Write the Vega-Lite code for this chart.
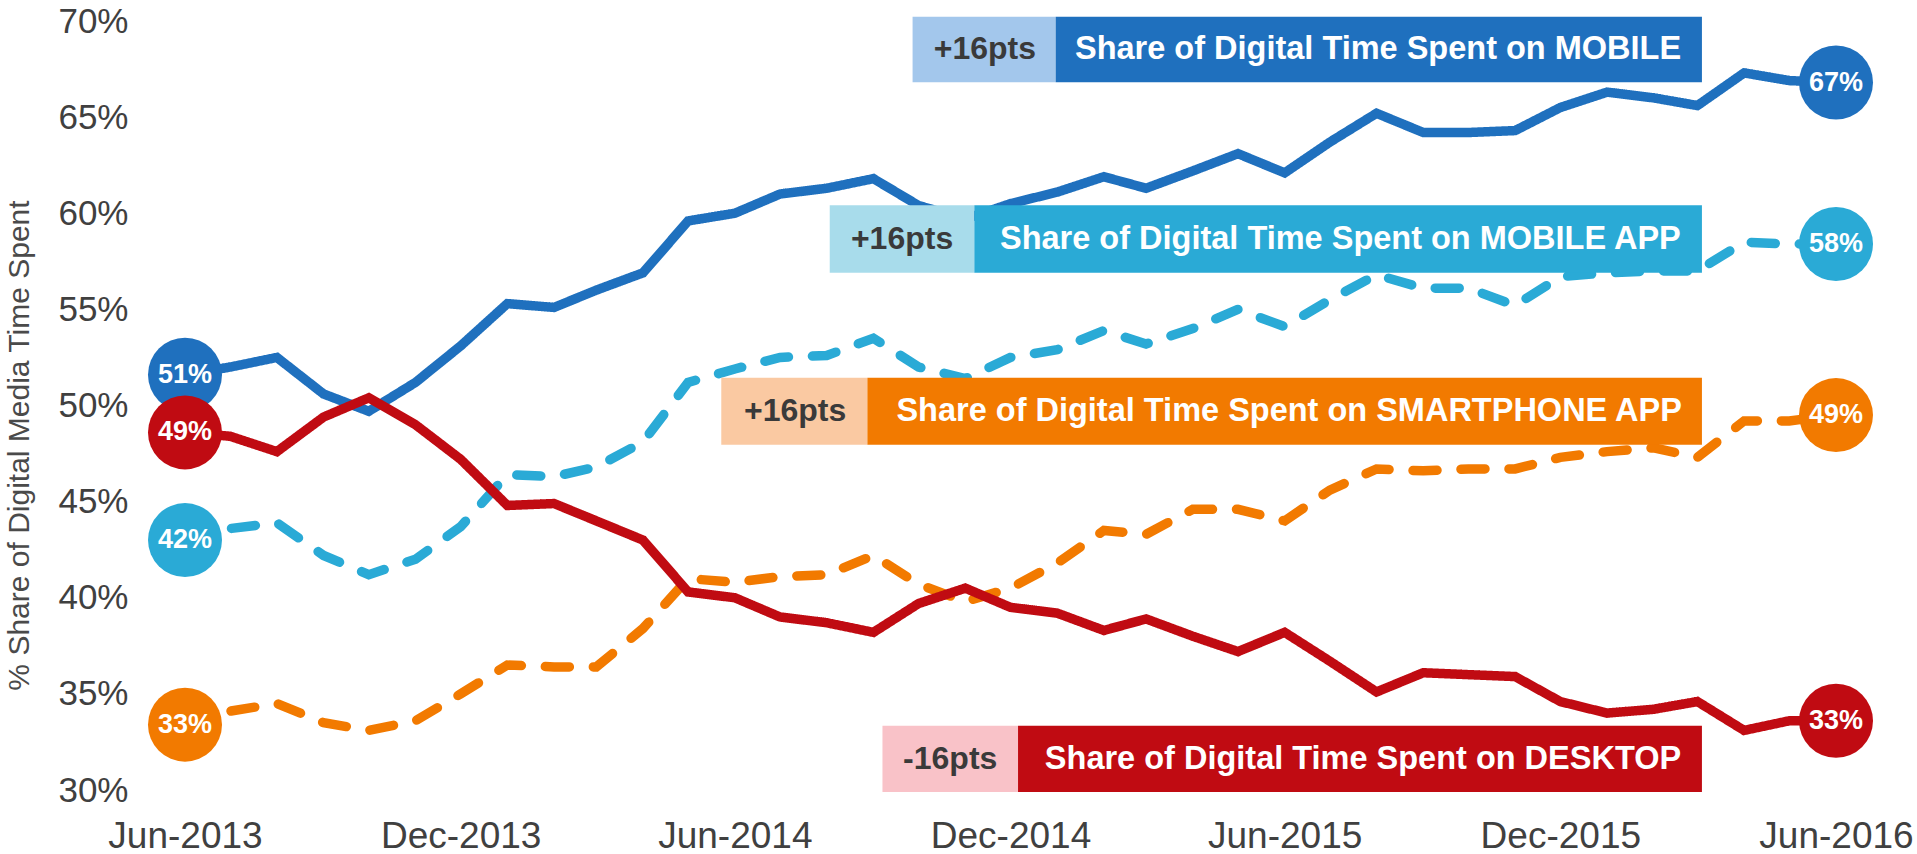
{
  "$schema": "https://vega.github.io/schema/vega-lite/v6.json",
  "width": 1651,
  "height": 769,
  "autosize": "none",
  "padding": {"left": 185, "top": 21, "right": 81, "bottom": 64},
  "background": "white",
  "config": {
    "view": {"stroke": null},
    "font": "Liberation Sans",
    "axis": {"grid": false, "domain": false, "ticks": false, "tickSize": 0}
  },
  "datasets": {
    "series": [
      {"series":"MOBILE","date":"2013-06-01","value":51.6},{"series":"MOBILE","date":"2013-07-01","value":52.0},{"series":"MOBILE","date":"2013-08-01","value":52.5},{"series":"MOBILE","date":"2013-09-01","value":50.6},{"series":"MOBILE","date":"2013-10-01","value":49.7},{"series":"MOBILE","date":"2013-11-01","value":51.2},{"series":"MOBILE","date":"2013-12-01","value":53.1},{"series":"MOBILE","date":"2014-01-01","value":55.3},{"series":"MOBILE","date":"2014-02-01","value":55.1},{"series":"MOBILE","date":"2014-03-01","value":56.0},{"series":"MOBILE","date":"2014-04-01","value":56.9},{"series":"MOBILE","date":"2014-05-01","value":59.6},{"series":"MOBILE","date":"2014-06-01","value":60.0},{"series":"MOBILE","date":"2014-07-01","value":61.0},{"series":"MOBILE","date":"2014-08-01","value":61.3},{"series":"MOBILE","date":"2014-09-01","value":61.8},{"series":"MOBILE","date":"2014-10-01","value":60.4},{"series":"MOBILE","date":"2014-11-01","value":59.7},{"series":"MOBILE","date":"2014-12-01","value":60.5},{"series":"MOBILE","date":"2015-01-01","value":61.1},{"series":"MOBILE","date":"2015-02-01","value":61.9},{"series":"MOBILE","date":"2015-03-01","value":61.3},{"series":"MOBILE","date":"2015-04-01","value":62.2},{"series":"MOBILE","date":"2015-05-01","value":63.1},{"series":"MOBILE","date":"2015-06-01","value":62.1},{"series":"MOBILE","date":"2015-07-01","value":63.7},{"series":"MOBILE","date":"2015-08-01","value":65.2},{"series":"MOBILE","date":"2015-09-01","value":64.2},{"series":"MOBILE","date":"2015-10-01","value":64.2},{"series":"MOBILE","date":"2015-11-01","value":64.3},{"series":"MOBILE","date":"2015-12-01","value":65.5},{"series":"MOBILE","date":"2016-01-01","value":66.3},{"series":"MOBILE","date":"2016-02-01","value":66.0},{"series":"MOBILE","date":"2016-03-01","value":65.6},{"series":"MOBILE","date":"2016-04-01","value":67.3},{"series":"MOBILE","date":"2016-05-01","value":66.9},{"series":"MOBILE","date":"2016-06-01","value":66.8},
      {"series":"MOBILE APP","date":"2013-06-01","value":43.0},{"series":"MOBILE APP","date":"2013-07-01","value":43.6},{"series":"MOBILE APP","date":"2013-08-01","value":43.9},{"series":"MOBILE APP","date":"2013-09-01","value":42.2},{"series":"MOBILE APP","date":"2013-10-01","value":41.2},{"series":"MOBILE APP","date":"2013-11-01","value":42.0},{"series":"MOBILE APP","date":"2013-12-01","value":43.7},{"series":"MOBILE APP","date":"2014-01-01","value":46.4},{"series":"MOBILE APP","date":"2014-02-01","value":46.3},{"series":"MOBILE APP","date":"2014-03-01","value":46.8},{"series":"MOBILE APP","date":"2014-04-01","value":48.1},{"series":"MOBILE APP","date":"2014-05-01","value":51.2},{"series":"MOBILE APP","date":"2014-06-01","value":51.9},{"series":"MOBILE APP","date":"2014-07-01","value":52.5},{"series":"MOBILE APP","date":"2014-08-01","value":52.6},{"series":"MOBILE APP","date":"2014-09-01","value":53.5},{"series":"MOBILE APP","date":"2014-10-01","value":52.0},{"series":"MOBILE APP","date":"2014-11-01","value":51.4},{"series":"MOBILE APP","date":"2014-12-01","value":52.5},{"series":"MOBILE APP","date":"2015-01-01","value":52.9},{"series":"MOBILE APP","date":"2015-02-01","value":53.9},{"series":"MOBILE APP","date":"2015-03-01","value":53.2},{"series":"MOBILE APP","date":"2015-04-01","value":54.0},{"series":"MOBILE APP","date":"2015-05-01","value":55.0},{"series":"MOBILE APP","date":"2015-06-01","value":54.1},{"series":"MOBILE APP","date":"2015-07-01","value":55.5},{"series":"MOBILE APP","date":"2015-08-01","value":56.8},{"series":"MOBILE APP","date":"2015-09-01","value":56.1},{"series":"MOBILE APP","date":"2015-10-01","value":56.1},{"series":"MOBILE APP","date":"2015-11-01","value":55.2},{"series":"MOBILE APP","date":"2015-12-01","value":56.7},{"series":"MOBILE APP","date":"2016-01-01","value":56.9},{"series":"MOBILE APP","date":"2016-02-01","value":57.0},{"series":"MOBILE APP","date":"2016-03-01","value":57.0},{"series":"MOBILE APP","date":"2016-04-01","value":58.5},{"series":"MOBILE APP","date":"2016-05-01","value":58.4},{"series":"MOBILE APP","date":"2016-06-01","value":58.4},
      {"series":"SMARTPHONE APP","date":"2013-06-01","value":33.4},{"series":"SMARTPHONE APP","date":"2013-07-01","value":34.1},{"series":"SMARTPHONE APP","date":"2013-08-01","value":34.5},{"series":"SMARTPHONE APP","date":"2013-09-01","value":33.5},{"series":"SMARTPHONE APP","date":"2013-10-01","value":33.1},{"series":"SMARTPHONE APP","date":"2013-11-01","value":33.6},{"series":"SMARTPHONE APP","date":"2013-12-01","value":35.0},{"series":"SMARTPHONE APP","date":"2014-01-01","value":36.5},{"series":"SMARTPHONE APP","date":"2014-02-01","value":36.4},{"series":"SMARTPHONE APP","date":"2014-03-01","value":36.4},{"series":"SMARTPHONE APP","date":"2014-04-01","value":38.4},{"series":"SMARTPHONE APP","date":"2014-05-01","value":41.0},{"series":"SMARTPHONE APP","date":"2014-06-01","value":40.8},{"series":"SMARTPHONE APP","date":"2014-07-01","value":41.1},{"series":"SMARTPHONE APP","date":"2014-08-01","value":41.2},{"series":"SMARTPHONE APP","date":"2014-09-01","value":42.2},{"series":"SMARTPHONE APP","date":"2014-10-01","value":40.7},{"series":"SMARTPHONE APP","date":"2014-11-01","value":39.8},{"series":"SMARTPHONE APP","date":"2014-12-01","value":40.5},{"series":"SMARTPHONE APP","date":"2015-01-01","value":41.8},{"series":"SMARTPHONE APP","date":"2015-02-01","value":43.5},{"series":"SMARTPHONE APP","date":"2015-03-01","value":43.3},{"series":"SMARTPHONE APP","date":"2015-04-01","value":44.6},{"series":"SMARTPHONE APP","date":"2015-05-01","value":44.6},{"series":"SMARTPHONE APP","date":"2015-06-01","value":44.0},{"series":"SMARTPHONE APP","date":"2015-07-01","value":45.6},{"series":"SMARTPHONE APP","date":"2015-08-01","value":46.7},{"series":"SMARTPHONE APP","date":"2015-09-01","value":46.6},{"series":"SMARTPHONE APP","date":"2015-10-01","value":46.7},{"series":"SMARTPHONE APP","date":"2015-11-01","value":46.7},{"series":"SMARTPHONE APP","date":"2015-12-01","value":47.3},{"series":"SMARTPHONE APP","date":"2016-01-01","value":47.6},{"series":"SMARTPHONE APP","date":"2016-02-01","value":47.8},{"series":"SMARTPHONE APP","date":"2016-03-01","value":47.3},{"series":"SMARTPHONE APP","date":"2016-04-01","value":49.2},{"series":"SMARTPHONE APP","date":"2016-05-01","value":49.2},{"series":"SMARTPHONE APP","date":"2016-06-01","value":49.5},
      {"series":"DESKTOP","date":"2013-06-01","value":48.6},{"series":"DESKTOP","date":"2013-07-01","value":48.4},{"series":"DESKTOP","date":"2013-08-01","value":47.6},{"series":"DESKTOP","date":"2013-09-01","value":49.4},{"series":"DESKTOP","date":"2013-10-01","value":50.4},{"series":"DESKTOP","date":"2013-11-01","value":49.0},{"series":"DESKTOP","date":"2013-12-01","value":47.2},{"series":"DESKTOP","date":"2014-01-01","value":44.8},{"series":"DESKTOP","date":"2014-02-01","value":44.9},{"series":"DESKTOP","date":"2014-03-01","value":44.0},{"series":"DESKTOP","date":"2014-04-01","value":43.0},{"series":"DESKTOP","date":"2014-05-01","value":40.3},{"series":"DESKTOP","date":"2014-06-01","value":40.0},{"series":"DESKTOP","date":"2014-07-01","value":39.0},{"series":"DESKTOP","date":"2014-08-01","value":38.7},{"series":"DESKTOP","date":"2014-09-01","value":38.2},{"series":"DESKTOP","date":"2014-10-01","value":39.7},{"series":"DESKTOP","date":"2014-11-01","value":40.5},{"series":"DESKTOP","date":"2014-12-01","value":39.5},{"series":"DESKTOP","date":"2015-01-01","value":39.2},{"series":"DESKTOP","date":"2015-02-01","value":38.3},{"series":"DESKTOP","date":"2015-03-01","value":38.9},{"series":"DESKTOP","date":"2015-04-01","value":38.0},{"series":"DESKTOP","date":"2015-05-01","value":37.2},{"series":"DESKTOP","date":"2015-06-01","value":38.2},{"series":"DESKTOP","date":"2015-07-01","value":36.7},{"series":"DESKTOP","date":"2015-08-01","value":35.1},{"series":"DESKTOP","date":"2015-09-01","value":36.1},{"series":"DESKTOP","date":"2015-10-01","value":36.0},{"series":"DESKTOP","date":"2015-11-01","value":35.9},{"series":"DESKTOP","date":"2015-12-01","value":34.6},{"series":"DESKTOP","date":"2016-01-01","value":34.0},{"series":"DESKTOP","date":"2016-02-01","value":34.2},{"series":"DESKTOP","date":"2016-03-01","value":34.6},{"series":"DESKTOP","date":"2016-04-01","value":33.1},{"series":"DESKTOP","date":"2016-05-01","value":33.6},{"series":"DESKTOP","date":"2016-06-01","value":33.6}
    ],
    "ends": [
      {"series":"MOBILE","date":"2013-06-01","value":51.6,"label":"51%"},
      {"series":"DESKTOP","date":"2013-06-01","value":48.6,"label":"49%"},
      {"series":"MOBILE APP","date":"2013-06-01","value":43.0,"label":"42%"},
      {"series":"SMARTPHONE APP","date":"2013-06-01","value":33.4,"label":"33%"},
      {"series":"MOBILE","date":"2016-06-01","value":66.8,"label":"67%"},
      {"series":"MOBILE APP","date":"2016-06-01","value":58.4,"label":"58%"},
      {"series":"SMARTPHONE APP","date":"2016-06-01","value":49.5,"label":"49%"},
      {"series":"DESKTOP","date":"2016-06-01","value":33.6,"label":"33%"}
    ],
    "boxes": [
      {"key":"MOBILE light","part":"delta","x1":"2014-09-27","x2":"2014-12-31","xm":"2014-11-14","y1":70.22,"y2":66.82,"ym":68.52,"label":"+16pts"},
      {"key":"MOBILE","part":"title","x1":"2014-12-31","x2":"2016-03-04","xm":"2015-08-02","y1":70.22,"y2":66.82,"ym":68.52,"label":"Share of Digital Time Spent on MOBILE"},
      {"key":"MOBILE APP light","part":"delta","x1":"2014-08-03","x2":"2014-11-07","xm":"2014-09-20","y1":60.41,"y2":56.9,"ym":58.65,"label":"+16pts"},
      {"key":"MOBILE APP","part":"title","x1":"2014-11-07","x2":"2016-03-04","xm":"2015-07-08","y1":60.41,"y2":56.9,"ym":58.65,"label":"Share of Digital Time Spent on MOBILE APP"},
      {"key":"SMARTPHONE APP light","part":"delta","x1":"2014-05-23","x2":"2014-08-28","xm":"2014-07-11","y1":51.44,"y2":47.96,"ym":49.7,"label":"+16pts"},
      {"key":"SMARTPHONE APP","part":"title","x1":"2014-08-28","x2":"2016-03-04","xm":"2015-06-04","y1":51.44,"y2":47.96,"ym":49.7,"label":"Share of Digital Time Spent on SMARTPHONE APP"},
      {"key":"DESKTOP light","part":"delta","x1":"2014-09-07","x2":"2014-12-06","xm":"2014-10-22","y1":33.34,"y2":29.89,"ym":31.6,"label":"-16pts"},
      {"key":"DESKTOP","part":"title","x1":"2014-12-06","x2":"2016-03-04","xm":"2015-07-23","y1":33.34,"y2":29.89,"ym":31.6,"label":"Share of Digital Time Spent on DESKTOP"}
    ]
  },
  "layer": [
    {
      "data": {"name": "series"},
      "mark": {"type": "line", "strokeWidth": 9.5, "strokeCap": "round"},
      "encoding": {
        "x": {
          "field": "date", "type": "temporal",
          "scale": {"type": "utc", "domain": [{"year": 2013, "month": 6, "date": 1, "utc": true}, {"year": 2016, "month": 6, "date": 1, "utc": true}]},
          "axis": {
            "title": null,
            "values": [
              {"year": 2013, "month": 6, "date": 1, "utc": true},
              {"year": 2013, "month": 12, "date": 1, "utc": true},
              {"year": 2014, "month": 6, "date": 1, "utc": true},
              {"year": 2014, "month": 12, "date": 1, "utc": true},
              {"year": 2015, "month": 6, "date": 1, "utc": true},
              {"year": 2015, "month": 12, "date": 1, "utc": true},
              {"year": 2016, "month": 6, "date": 1, "utc": true}
            ],
            "format": "%b-%Y",
            "labelFontSize": 37,
            "labelColor": "#404040",
            "labelPadding": 28,
            "labelFlush": false,
            "labelOverlap": false,
            "labelFont": "Liberation Sans"
          }
        },
        "y": {
          "field": "value", "type": "quantitative",
          "scale": {"domain": [30, 70], "nice": false, "zero": false},
          "axis": {
            "values": [30, 35, 40, 45, 50, 55, 60, 65, 70],
            "labelExpr": "datum.value + '%'",
            "labelFontSize": 35,
            "labelColor": "#404040",
            "labelPadding": 57,
            "labelFlush": false,
            "labelOverlap": false,
            "labelFont": "Liberation Sans",
            "title": "% Share of Digital Media Time Spent",
            "titleFont": "Liberation Sans",
            "titleFontSize": 30,
            "titleFontWeight": "normal",
            "titleColor": "#4a4a4a",
            "titleAngle": -90,
            "titleX": -166,
            "titleY": 424,
            "titleAlign": "center",
            "titleBaseline": "middle"
          }
        },
        "stroke": {
          "field": "series", "type": "nominal", "legend": null,
          "scale": {"domain": ["MOBILE", "MOBILE APP", "SMARTPHONE APP", "DESKTOP"], "range": ["#1F70BE", "#2AAAD6", "#F27A00", "#C00B12"]}
        },
        "strokeDash": {
          "field": "series", "type": "nominal", "legend": null,
          "scale": {"domain": ["MOBILE", "MOBILE APP", "SMARTPHONE APP", "DESKTOP"], "range": [[1, 0], [24, 24], [24, 24], [1, 0]]}
        }
      }
    },
    {
      "data": {"name": "ends"},
      "mark": {"type": "circle", "size": 5476, "opacity": 1},
      "encoding": {
        "x": {"field": "date", "type": "temporal", "scale": {"type": "utc"}},
        "y": {"field": "value", "type": "quantitative"},
        "fill": {
          "field": "series", "type": "nominal", "legend": null,
          "scale": {
            "domain": ["MOBILE", "MOBILE APP", "SMARTPHONE APP", "DESKTOP", "MOBILE light", "MOBILE APP light", "SMARTPHONE APP light", "DESKTOP light"],
            "range": ["#1F70BE", "#2AAAD6", "#F27A00", "#C00B12", "#A3C7EC", "#A8DCEB", "#FAC9A2", "#F9C2C8"]
          }
        }
      }
    },
    {
      "data": {"name": "ends"},
      "mark": {"type": "text", "fontSize": 27, "fontWeight": "bold", "fill": "white", "align": "center", "baseline": "middle", "font": "Liberation Sans"},
      "encoding": {
        "x": {"field": "date", "type": "temporal", "scale": {"type": "utc"}},
        "y": {"field": "value", "type": "quantitative"},
        "text": {"field": "label"}
      }
    },
    {
      "data": {"name": "boxes"},
      "mark": {"type": "rect"},
      "encoding": {
        "x": {"field": "x1", "type": "temporal", "scale": {"type": "utc"}},
        "x2": {"field": "x2"},
        "y": {"field": "y1", "type": "quantitative"},
        "y2": {"field": "y2"},
        "fill": {
          "field": "key", "type": "nominal", "legend": null,
          "scale": {
            "domain": ["MOBILE", "MOBILE APP", "SMARTPHONE APP", "DESKTOP", "MOBILE light", "MOBILE APP light", "SMARTPHONE APP light", "DESKTOP light"],
            "range": ["#1F70BE", "#2AAAD6", "#F27A00", "#C00B12", "#A3C7EC", "#A8DCEB", "#FAC9A2", "#F9C2C8"]
          }
        }
      }
    },
    {
      "data": {"name": "boxes"},
      "transform": [{"filter": "datum.part === 'delta'"}],
      "mark": {"type": "text", "fontSize": 32, "fontWeight": "bold", "fill": "#3A3A3A", "align": "center", "baseline": "middle", "font": "Liberation Sans"},
      "encoding": {
        "x": {"field": "xm", "type": "temporal", "scale": {"type": "utc"}},
        "y": {"field": "ym", "type": "quantitative"},
        "text": {"field": "label"}
      }
    },
    {
      "data": {"name": "boxes"},
      "transform": [{"filter": "datum.part === 'title'"}],
      "mark": {"type": "text", "fontSize": 32.5, "fontWeight": "bold", "fill": "white", "align": "center", "baseline": "middle", "font": "Liberation Sans"},
      "encoding": {
        "x": {"field": "xm", "type": "temporal", "scale": {"type": "utc"}},
        "y": {"field": "ym", "type": "quantitative"},
        "text": {"field": "label"}
      }
    }
  ]
}
